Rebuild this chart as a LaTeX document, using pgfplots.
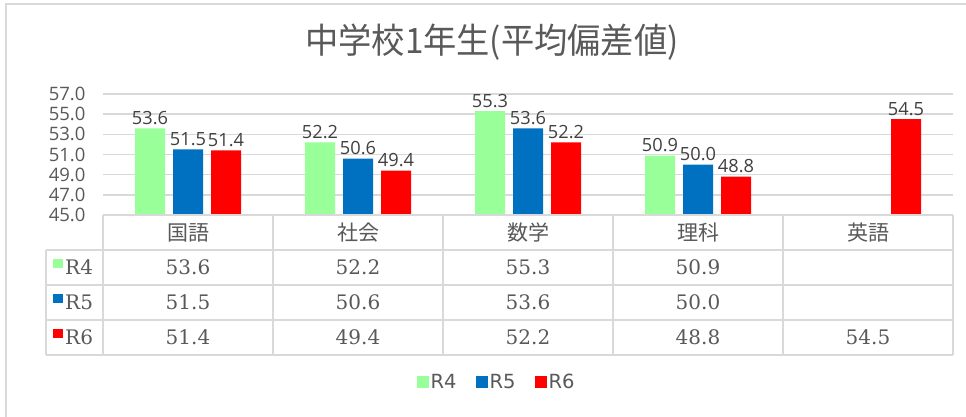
\documentclass[border=0pt]{standalone}
\usepackage{pgfplots}
\pgfplotsset{compat=1.18}
\usepackage{fontspec}
\setmainfont{Noto Sans CJK JP}
\newfontfamily\serifnum{DejaVu Serif}
\newfontfamily\sansnum{Open Sans}
\newfontfamily\legfont{DejaVu Sans}
\newcommand{\legtxt}[1]{{\legfont\fontsize{19.5}{21}\selectfont #1}}
\definecolor{cG}{HTML}{99FF99}
\definecolor{cB}{HTML}{0070C0}
\definecolor{cR}{HTML}{FF0000}
\definecolor{txt}{HTML}{595959}
\definecolor{lab}{HTML}{404040}
\definecolor{gridc}{HTML}{D9D9D9}
\begin{document}
\begin{tikzpicture}[x=1pt,y=1pt]
\useasboundingbox (0,0) rectangle (966,417);
\fill[white] (0,0) rectangle (966,417);
\draw[gridc, line width=1.5pt] (6,0) -- (6,413) -- (966,413);
\node[text=txt, font=\fontsize{35}{38}\selectfont, inner sep=0pt] at (492,374.5) {\scalebox{0.95}[1]{中学校1年生(平均偏差値)}};
\begin{axis}[
  at={(103pt,202pt)}, anchor=south west, scale only axis,
  width=850pt, height=121pt,
  ymin=45, ymax=57, ytick={45,47,...,57},
  xmin=-0.5, xmax=4.5, xtick={0,1,2,3,4},
  xticklabels={国語,社会,数学,理科,英語},
  axis line style={draw=none}, major tick length=0pt,
  ymajorgrids, grid style={gridc, line width=1.5pt},
  ybar=8pt, bar width=30pt,
  clip=false,
  /pgf/number format/assume math mode=true,
  yticklabel style={font=\sansnum\fontsize{18.5}{20}\selectfont, text=txt, anchor=east, xshift=-14pt,
     /pgf/number format/fixed, /pgf/number format/fixed zerofill, /pgf/number format/precision=1},
  xticklabel style={font=\fontsize{21}{24}\selectfont, text=txt, anchor=center, yshift=-17.5pt},
  nodes near coords,
  every node near coord/.append style={font=\sansnum\fontsize{18.2}{20}\selectfont, text=lab,
     /pgf/number format/fixed, /pgf/number format/fixed zerofill, /pgf/number format/precision=1},
  legend style={at={(0.463,-1.38)}, anchor=center, draw=none, fill=none, legend columns=-1,
     text=txt, inner sep=0pt,
     /tikz/every even column/.append style={column sep=17pt}},
  legend image code/.code={\fill[#1] (0pt,-6pt) rectangle (12pt,6pt);},
]
\addplot[fill=cG, draw=none] coordinates {(0,53.6) (1,52.2) (2,55.3) (3,50.9)};
\addplot[fill=cB, draw=none] coordinates {(0,51.5) (1,50.6) (2,53.6) (3,50.0)};
\addplot[fill=cR, draw=none] coordinates {(0,51.4) (1,49.4) (2,52.2) (3,48.8) (4,54.5)};
\legend{\legtxt{R4},\legtxt{R5},\legtxt{R6}}
\end{axis}
% data table grid
\begin{scope}[gridc, line width=1.5pt]
\draw (103,202) -- (953,202);
\foreach \yy in {167,132,97,62} {\draw (46,\yy) -- (953,\yy);}
\foreach \xx in {103,273,443,613,783,953} {\draw (\xx,202) -- (\xx,62);}
\draw (46,167) -- (46,62);
\end{scope}
% row keys
\fill[cG] (53,149) rectangle (63,158);
\fill[cB] (53,114) rectangle (63,123);
\fill[cR] (53,79) rectangle (63,88);
\begin{scope}[every node/.style={text=txt, font=\serifnum\fontsize{20}{22}\selectfont, inner sep=0pt}]
\node[anchor=west] at (65,149.5) {R4};
\node[anchor=west] at (65,114.5) {R5};
\node[anchor=west] at (65,79.5) {R6};
\node at (188,149.5) {53.6};
\node at (358,149.5) {52.2};
\node at (528,149.5) {55.3};
\node at (698,149.5) {50.9};
\node at (188,114.5) {51.5};
\node at (358,114.5) {50.6};
\node at (528,114.5) {53.6};
\node at (698,114.5) {50.0};
\node at (188,79.5) {51.4};
\node at (358,79.5) {49.4};
\node at (528,79.5) {52.2};
\node at (698,79.5) {48.8};
\node at (868,79.5) {54.5};
\end{scope}
\end{tikzpicture}
\end{document}
